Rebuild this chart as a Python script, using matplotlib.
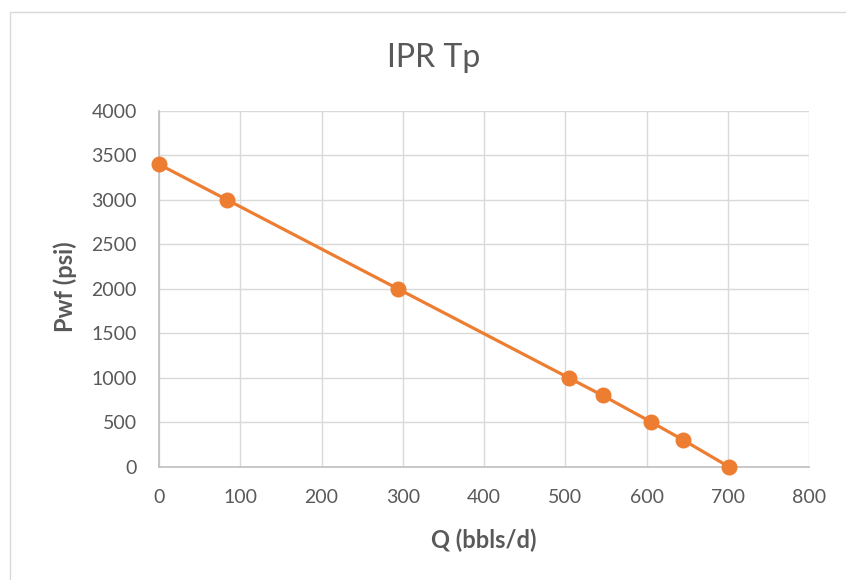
import matplotlib.pyplot as plt
from matplotlib.patches import Rectangle

q_values = [0, 84, 294, 504, 546, 606, 645, 701]
pwf_values = [3400, 3000, 2000, 1000, 800, 500, 300, 0]
x_ticks = [0, 100, 200, 300, 400, 500, 600, 700, 800]
y_ticks = [0, 500, 1000, 1500, 2000, 2500, 3000, 3500, 4000]

text_color = '#595959'
grid_color = '#D9D9D9'
orange = '#ED7D31'

plt.rcParams['font.family'] = ['Lato', 'DejaVu Sans']

fig = plt.figure(figsize=(8.46, 5.8), dpi=100)
fig.patches.append(Rectangle((10 / 846, -0.1), 1.2, 1 - 12 / 580 + 0.1,
                             transform=fig.transFigure, fill=False,
                             edgecolor=grid_color, linewidth=1.0))

ax = fig.add_axes([159 / 846, 1 - 466.6 / 580, 650 / 846, 355.6 / 580])
ax.plot(q_values, pwf_values, color=orange, linewidth=2.3,
        marker='o', markersize=10.5, zorder=3, clip_on=False)

ax.set_xlim(0, 800)
ax.set_ylim(0, 4000)
ax.set_xticks(x_ticks)
ax.set_yticks(y_ticks)
ax.grid(True, color=grid_color, linewidth=1.0)
ax.set_axisbelow(True)
for side in ['top', 'right']:
    ax.spines[side].set_visible(False)
for side in ['left', 'bottom']:
    ax.spines[side].set_color('#BFBFBF')
    ax.spines[side].set_linewidth(1.2)
ax.tick_params(length=0, labelsize=14, labelcolor=text_color)
ax.tick_params(axis='x', pad=16)
ax.tick_params(axis='y', pad=16)

fig.text(434 / 846, 1 - 67 / 580, 'IPR Tp', ha='center', va='baseline',
         fontsize=23, color=text_color)
fig.text(484 / 846, 1 - 548 / 580, 'Q (bbls/d)', ha='center', va='baseline',
         fontsize=17, fontweight='bold', color=text_color)
fig.text(73 / 846, 1 - 287 / 580, 'Pwf (psi)', ha='center', va='baseline',
         fontsize=17, fontweight='bold', color=text_color, rotation=90,
         rotation_mode='anchor')

fig.savefig('out.png', dpi=100)
